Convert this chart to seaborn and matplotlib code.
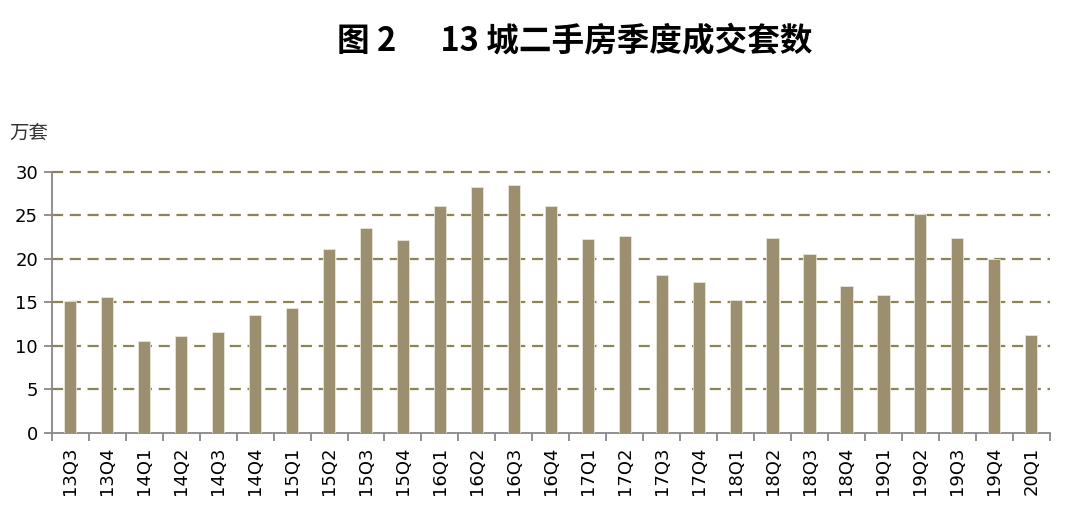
import numpy as np
import pandas as pd
import matplotlib
matplotlib.use("Agg")
import matplotlib.pyplot as plt
import seaborn as sns

# Quarterly second-hand home transactions in 13 cities (10k units)
quarters = ["13Q3", "13Q4", "14Q1", "14Q2", "14Q3", "14Q4", "15Q1", "15Q2", "15Q3",
            "15Q4", "16Q1", "16Q2", "16Q3", "16Q4", "17Q1", "17Q2", "17Q3", "17Q4",
            "18Q1", "18Q2", "18Q3", "18Q4", "19Q1", "19Q2", "19Q3", "19Q4", "20Q1"]
deals = [15.2, 15.6, 10.6, 11.1, 11.6, 13.6, 14.3, 21.1, 23.6,
         22.2, 26.1, 28.3, 28.5, 26.1, 22.3, 22.6, 18.2, 17.3,
         15.3, 22.4, 20.6, 16.9, 15.9, 25.2, 22.4, 20.0, 11.3]

df = pd.DataFrame({"quarter": quarters, "deals": deals})

sns.set_theme(style="white")
plt.rcParams['font.family'] = ['DejaVu Sans', 'Noto Sans CJK SC']

fig = plt.figure(figsize=(10.8, 5.16), dpi=100)
ax = fig.add_axes([0.048, 0.161, 0.924, 0.506])

sns.barplot(data=df, x="quarter", y="deals", color="#9b8f6f", saturation=1,
            width=0.33, edgecolor="#e8e4d8", linewidth=0.6, ax=ax, zorder=3)

ax.set_ylim(0, 30)
ax.set_xlim(-0.5, len(quarters) - 0.5)
ax.set_yticks(range(0, 31, 5))
for y in range(5, 31, 5):
    ax.axhline(y, color="#8c8455", linestyle=(0, (5, 3)), linewidth=1.6, zorder=1,
               clip_on=False)

# tick marks sit between the categories
ax.set_xticks(np.arange(len(quarters)))
ax.set_xticklabels(quarters, rotation=90, fontsize=13, color="black")
ax.set_xticks(np.arange(-0.5, len(quarters)), minor=True)
ax.tick_params(axis="x", which="major", length=0, pad=10)
ax.tick_params(axis="x", which="minor", length=6, width=1.3, color="#888888", direction="out")
ax.tick_params(axis="y", length=6, width=1.3, color="#888888", direction="out",
               labelsize=13, labelcolor="black", pad=4)
ax.xaxis.set_ticks_position("bottom")
ax.yaxis.set_ticks_position("left")

for side in ["top", "right"]:
    ax.spines[side].set_visible(False)
for side in ["left", "bottom"]:
    ax.spines[side].set_color("#888888")
    ax.spines[side].set_linewidth(1.3)
ax.set_xlabel("")
ax.set_ylabel("")

fig.text(0.009, 0.742, "万套", fontsize=14, color="#333333",
         family=["Noto Sans CJK SC", "DejaVu Sans"], va="center", ha="left")
fig.text(0.532, 0.918, "图 2      13 城二手房季度成交套数", fontsize=23.5, fontweight="heavy",
         color="black", family=["Noto Sans CJK SC", "DejaVu Sans"], ha="center", va="center")

fig.savefig("out.png", dpi=100)
